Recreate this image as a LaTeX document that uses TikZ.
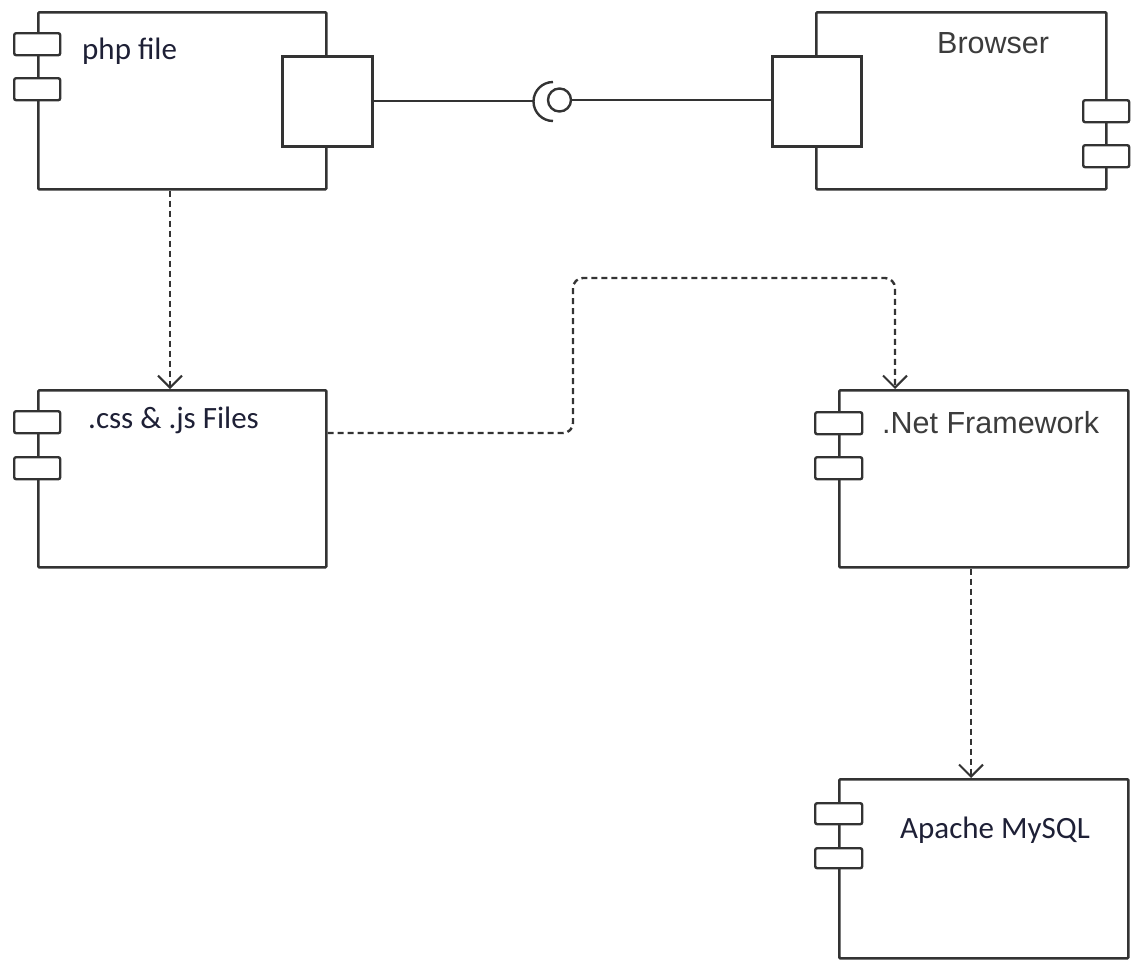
\documentclass[tikz,border=0pt]{standalone}
\usepackage{fontspec}
\setmainfont{Carlito}
\newfontfamily\arialf{Liberation Sans}
\usetikzlibrary{arrows.meta}
\definecolor{ln}{HTML}{333333}
\definecolor{txa}{HTML}{1E2036}
\definecolor{txb}{HTML}{3C3C3C}
\tikzset{
  comp/.style={draw=ln, line width=2.6pt, fill=white, minimum width=288pt, minimum height=177pt, anchor=north west, inner sep=0pt, rounded corners=1pt},
  tab/.style={draw=ln, line width=2.4pt, fill=white, minimum width=46pt, minimum height=22pt, anchor=north west, inner sep=0pt, rounded corners=2pt},
  port/.style={draw=ln, line width=2.6pt, fill=white, minimum width=90pt, minimum height=90pt, anchor=north west, inner sep=0pt},
  lblc/.style={font=\fontsize{31}{36}\selectfont, text=txa, anchor=base west, inner sep=0pt},
  lbla/.style={font=\arialf\fontsize{30.5}{36}\selectfont, text=txb, anchor=base west, inner sep=0pt},
  dep/.style={draw=ln, line width=2.4pt, dash pattern=on 6pt off 4pt, -{Straight Barb[length=12pt,width=24pt,line width=2pt]}},
  assoc/.style={draw=ln, line width=2.2pt}
}
\begin{document}
\begin{tikzpicture}[x=1pt,y=-1pt]
\useasboundingbox (0,0) rectangle (1139,959);
% php file
\node[comp] (php) at (37,11) {};
\node[tab] (phpt1) at (13,32) {};
\node[tab] (phpt2) at (13,77) {};
\node[port] (phpport) at (281,55) {};
\node[lblc] (phpl) at (82,59) {php file};
% Browser
\node[comp, minimum width=290pt] (br) at (815,11) {};
\node[tab] (brt1) at (1082,99) {};
\node[tab] (brt2) at (1082,144) {};
\node[port, minimum width=89pt] (brport) at (771,55) {};
\node[lbla] (brl) at (937,53) {Browser};
% css
\node[comp] (css) at (37,389) {};
\node[tab] (csst1) at (13,410) {};
\node[tab] (csst2) at (13,456) {};
\node[lblc] (cssl) at (88,428) {.css \& .js Files};
% .Net
\node[comp, minimum width=289pt] (net) at (838,389) {};
\node[tab, minimum width=47pt] (nett1) at (814,411) {};
\node[tab, minimum width=47pt] (nett2) at (814,456) {};
\node[lbla] (netl) at (882,433) {.Net Framework};
% Apache
\node[comp, minimum width=289pt, minimum height=179pt] (ap) at (838,778) {};
\node[tab, minimum width=47pt, minimum height=21pt] (apt1) at (814,802) {};
\node[tab, minimum width=47pt, minimum height=20pt] (apt2) at (814,847) {};
\node[lblc] (apl) at (900,838) {Apache MySQL};
% ball and socket
\node[circle, draw=ln, line width=2.4pt, minimum size=23pt, inner sep=0pt] (ball) at (559.5,100) {};
\coordinate (sock) at (533,101);
\draw[assoc, line width=2.4pt] (553,82) arc[start angle=90, end angle=270, radius=19.5pt];
\draw[assoc] (phpport.east |- sock) -- (sock);
\draw[assoc] (ball.east) -- (brport.west |- ball.east);
% dependencies
\draw[dep] ([xshift=133pt]php.south west) -- ([xshift=133pt]css.north west);
\draw[dep, rounded corners=10pt] ([yshift=-44pt]css.north east) -- (573,433) -- (573,278) -- (895,278) -- ([xshift=57pt]net.north west);
\draw[dep] ([xshift=133pt]net.south west) -- ([xshift=133pt]ap.north west);
\end{tikzpicture}
\end{document}
